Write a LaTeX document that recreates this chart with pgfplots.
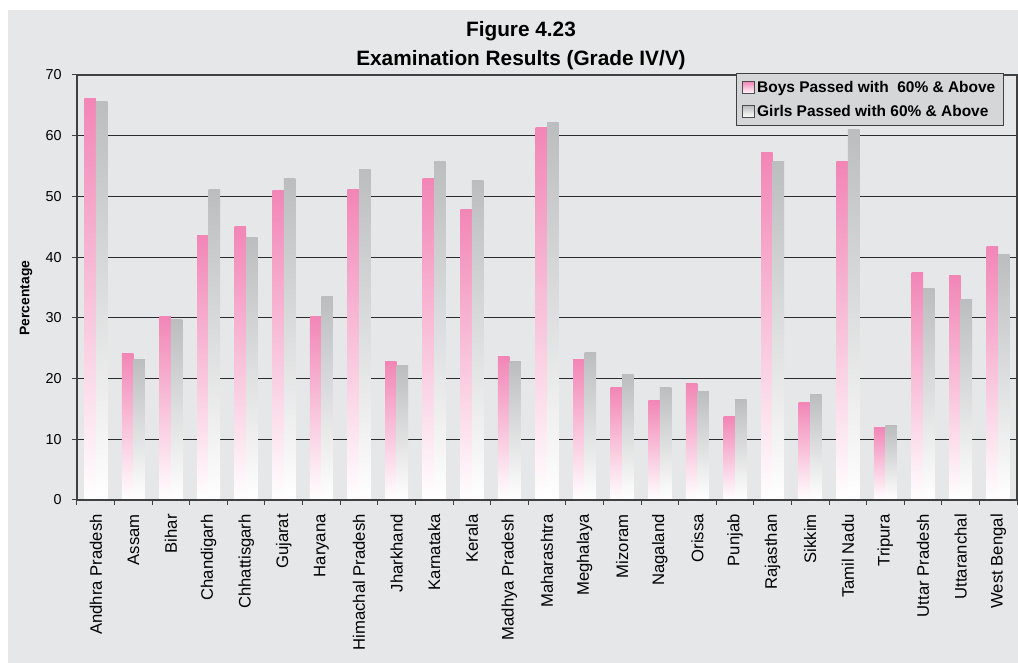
\documentclass[border=0pt]{standalone}
\usepackage{fontspec}
\setmainfont{Liberation Sans}
\usepackage{pgfplots}
\pgfplotsset{compat=1.18}
\definecolor{panel}{HTML}{E6E7E8}
\definecolor{pinktop}{HTML}{F286B6}
\definecolor{pinkmid}{HTML}{F7B6D3}
\definecolor{graytop}{HTML}{BCBDBF}
\definecolor{graymid}{HTML}{D9DADC}
\definecolor{legfill}{HTML}{D5D6D8}
\definecolor{gridc}{HTML}{2B2B2B}
\pgfplotsset{
  boys/.style={ybar, bar width=8.625pt, bar shift=-4.3125pt, draw=none, top color=pinktop, middle color=pinkmid, bottom color=white},
  girls/.style={ybar, bar width=8.625pt, bar shift=4.3125pt, draw=none, top color=graytop, middle color=graymid, bottom color=white},
}

\begin{document}
\begin{tikzpicture}
\fill[white] (-57.75pt,-122.25pt) rectangle (705.75pt,375pt);
\fill[panel] (-51.75pt,-122.25pt) rectangle (705.75pt,367.5pt);
\begin{axis}[
  at={(0pt,0pt)}, anchor=south west,
  scale only axis, width=705pt, height=318.75pt,
  xmin=-0.5, xmax=24.5, ymin=0, ymax=70,
  clip=false,
  xtick={0,...,24},
  xticklabels={Andhra Pradesh,Assam,Bihar,Chandigarh,Chhattisgarh,Gujarat,Haryana,Himachal Pradesh,Jharkhand,Karnataka,Kerala,Madhya Pradesh,Maharashtra,Meghalaya,Mizoram,Nagaland,Orissa,Punjab,Rajasthan,Sikkim,Tamil Nadu,Tripura,Uttar Pradesh,Uttaranchal,West Bengal},
  major x tick style={draw=none},
  minor xtick={-0.5,0.5,...,24.5},
  minor x tick style={draw=black!75, line width=0.75pt},
  ytick={0,10,...,70},
  tick align=outside,
  major tick length=3.75pt, minor tick length=3.75pt,
  y tick style={draw=black!75, line width=0.75pt},
  xtick pos=bottom, ytick pos=left,
  ymajorgrids, major grid style={gridc, line width=0.9pt},
  axis line style={draw=black!75, line width=1pt},
  /pgf/number format/assume math mode=true,
  yticklabel style={font=\fontsize{10.8}{12}\selectfont, inner sep=0pt, anchor=east, xshift=-7.5pt},
  xticklabel style={font=\fontsize{12.5}{14}\selectfont, inner sep=0pt, yshift=-6.75pt, rotate=90, anchor=east},
  ylabel={Percentage},
  ylabel style={font=\bfseries\fontsize{10.4}{12}\selectfont, at={(axis description cs:-0.0543,0.475)}, anchor=center, rotate=0},
  title={Figure 4.23\\[3pt]Examination Results (Grade IV/V)},
  title style={at={(axis description cs:0.4723,1.0506)}, anchor=center, align=center, inner sep=0pt, font=\bfseries\fontsize{15.6}{18.75}\selectfont},
  legend style={at={(axis description cs:0.9862,1.0047)}, anchor=north east, fill=legfill, draw=black!75, line width=1.1pt, font=\bfseries\fontsize{11.6}{14}\selectfont, row sep=4pt, inner xsep=4pt, inner ysep=3.5pt},
  legend cell align=left,
  legend image code/.code={\draw[#1, draw=black!70, line width=0.6pt] (0pt,-4.5pt) rectangle (9pt,4.5pt);},
]
% first bar of each series carries the legend entry
\addplot[boys] coordinates {(0,66.1)};
\addplot[girls] coordinates {(0,65.7)};
% Boys Passed with 60% & Above
\addplot[boys, forget plot] coordinates {(1,24.2)};
\addplot[boys, forget plot] coordinates {(2,30.3)};
\addplot[boys, forget plot] coordinates {(3,43.5)};
\addplot[boys, forget plot] coordinates {(4,45.0)};
\addplot[boys, forget plot] coordinates {(5,50.9)};
\addplot[boys, forget plot] coordinates {(6,30.3)};
\addplot[boys, forget plot] coordinates {(7,51.2)};
\addplot[boys, forget plot] coordinates {(8,22.8)};
\addplot[boys, forget plot] coordinates {(9,53.0)};
\addplot[boys, forget plot] coordinates {(10,47.9)};
\addplot[boys, forget plot] coordinates {(11,23.6)};
\addplot[boys, forget plot] coordinates {(12,61.3)};
\addplot[boys, forget plot] coordinates {(13,23.2)};
\addplot[boys, forget plot] coordinates {(14,18.6)};
\addplot[boys, forget plot] coordinates {(15,16.4)};
\addplot[boys, forget plot] coordinates {(16,19.2)};
\addplot[boys, forget plot] coordinates {(17,13.7)};
\addplot[boys, forget plot] coordinates {(18,57.2)};
\addplot[boys, forget plot] coordinates {(19,16.1)};
\addplot[boys, forget plot] coordinates {(20,55.7)};
\addplot[boys, forget plot] coordinates {(21,12.0)};
\addplot[boys, forget plot] coordinates {(22,37.4)};
\addplot[boys, forget plot] coordinates {(23,36.9)};
\addplot[boys, forget plot] coordinates {(24,41.8)};
% Girls Passed with 60% & Above
\addplot[girls, forget plot] coordinates {(1,23.2)};
\addplot[girls, forget plot] coordinates {(2,29.7)};
\addplot[girls, forget plot] coordinates {(3,51.1)};
\addplot[girls, forget plot] coordinates {(4,43.2)};
\addplot[girls, forget plot] coordinates {(5,52.9)};
\addplot[girls, forget plot] coordinates {(6,33.5)};
\addplot[girls, forget plot] coordinates {(7,54.5)};
\addplot[girls, forget plot] coordinates {(8,22.1)};
\addplot[girls, forget plot] coordinates {(9,55.8)};
\addplot[girls, forget plot] coordinates {(10,52.7)};
\addplot[girls, forget plot] coordinates {(11,22.8)};
\addplot[girls, forget plot] coordinates {(12,62.1)};
\addplot[girls, forget plot] coordinates {(13,24.3)};
\addplot[girls, forget plot] coordinates {(14,20.6)};
\addplot[girls, forget plot] coordinates {(15,18.6)};
\addplot[girls, forget plot] coordinates {(16,17.9)};
\addplot[girls, forget plot] coordinates {(17,16.5)};
\addplot[girls, forget plot] coordinates {(18,55.8)};
\addplot[girls, forget plot] coordinates {(19,17.3)};
\addplot[girls, forget plot] coordinates {(20,61.0)};
\addplot[girls, forget plot] coordinates {(21,12.2)};
\addplot[girls, forget plot] coordinates {(22,34.8)};
\addplot[girls, forget plot] coordinates {(23,33.1)};
\addplot[girls, forget plot] coordinates {(24,40.4)};
% bottom axis line redrawn over the bars
\addplot[draw=black!75, line width=1pt, forget plot] coordinates {(-0.5,0) (24.5,0)};
\legend{Boys Passed with\ \ 60\% \& Above, Girls Passed with 60\% \& Above}
\end{axis}
\pgfresetboundingbox
\path (-57.75pt,-122.25pt) rectangle (705.75pt,375pt);
\end{tikzpicture}
\end{document}
